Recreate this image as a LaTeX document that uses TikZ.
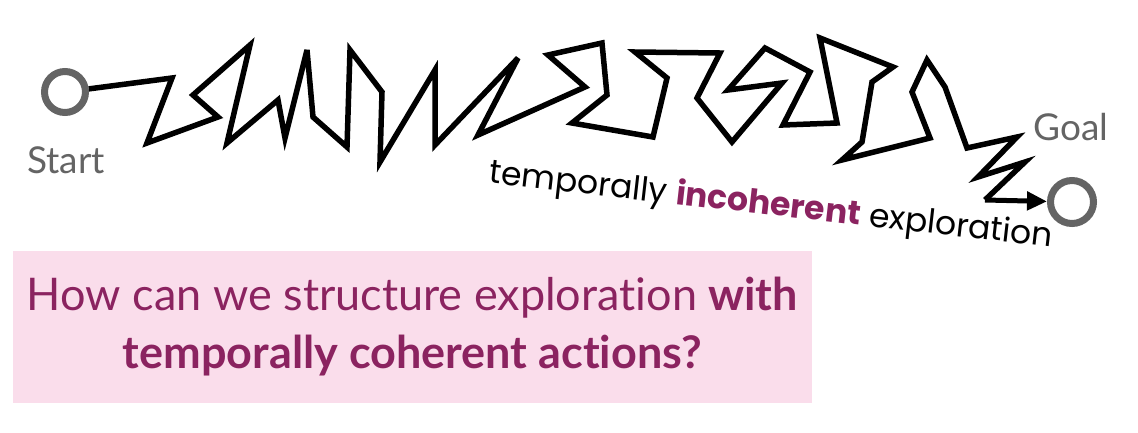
\documentclass[tikz,border=0pt]{standalone}
\usepackage{fontspec}
\setmainfont{Lato}[Ligatures={NoCommon,TeX}]
\newfontfamily\walkfont{Poppins}
\usetikzlibrary{arrows.meta}
\definecolor{plum}{HTML}{8B2360}
\definecolor{boxpink}{HTML}{FADDEB}
\definecolor{ringgray}{HTML}{646464}

\begin{document}
\begin{tikzpicture}[x=1pt,y=-1pt,
		ring/.style={circle,draw=ringgray,line width=7pt,inner sep=0pt},
		walk/.style={line width=5.5pt,line join=miter,miter limit=5}]
			\useasboundingbox (0,0) rectangle (1138,432);
			\node[ring,minimum size=41pt] (start) at (65,92) {};
			\node[ring,minimum size=43pt] (goal) at (1072,202) {};
			\node[text=ringgray,font=\fontsize{37}{37}\selectfont] (startlabel) at (66,160) {Start};
			\node[text=ringgray,font=\fontsize{37}{37}\selectfont] (goallabel) at (1071,127) {Goal};
			\draw[walk] (start) -- (172,78) -- (147,143) -- (218,117) -- (193,95) -- (250,45)
				-- (227,143) -- (278,100) -- (285,138) -- (307,50) -- (313,117) -- (347,147)
				-- (350,50) -- (382,92) -- (380,162) -- (435,70) -- (435,145) -- (518,58)
				-- (478,135) -- (585,87) -- (548,55) -- (602,43) -- (607,95) -- (572,123)
				-- (653,137) -- (667,78) -- (635,52) -- (720,53) -- (697,98) -- (732,142)
				-- (782,83) -- (728,90) -- (765,48) -- (810,72) -- (783,125) -- (837,123)
				-- (820,38) -- (893,67) -- (872,82) -- (862,142) -- (842,160) -- (930,138)
				-- (912,92) -- (927,60) -- (945,87) -- (967,148) -- (1017,137) -- (978,177)
				-- (1025,162) -- (985,200) coordinate (last);
			\draw[line width=5pt,-{Triangle[length=20pt,width=18pt]}] (last) -- (goal);
			\node[rotate=-6.5,font=\walkfont\fontsize{33}{33}\selectfont] (walklabel) at (771,206)
				{temporally \textcolor{plum}{\bfseries incoherent} exploration};
			\node[fill=boxpink,minimum width=799pt,minimum height=152pt,align=center,
				text=plum,font=\fontsize{45}{58}\selectfont] (question) at (412.5,327)
				{How can we structure exploration \textbf{with}\\\textbf{temporally coherent actions?}};
		\end{tikzpicture}
\end{document}
